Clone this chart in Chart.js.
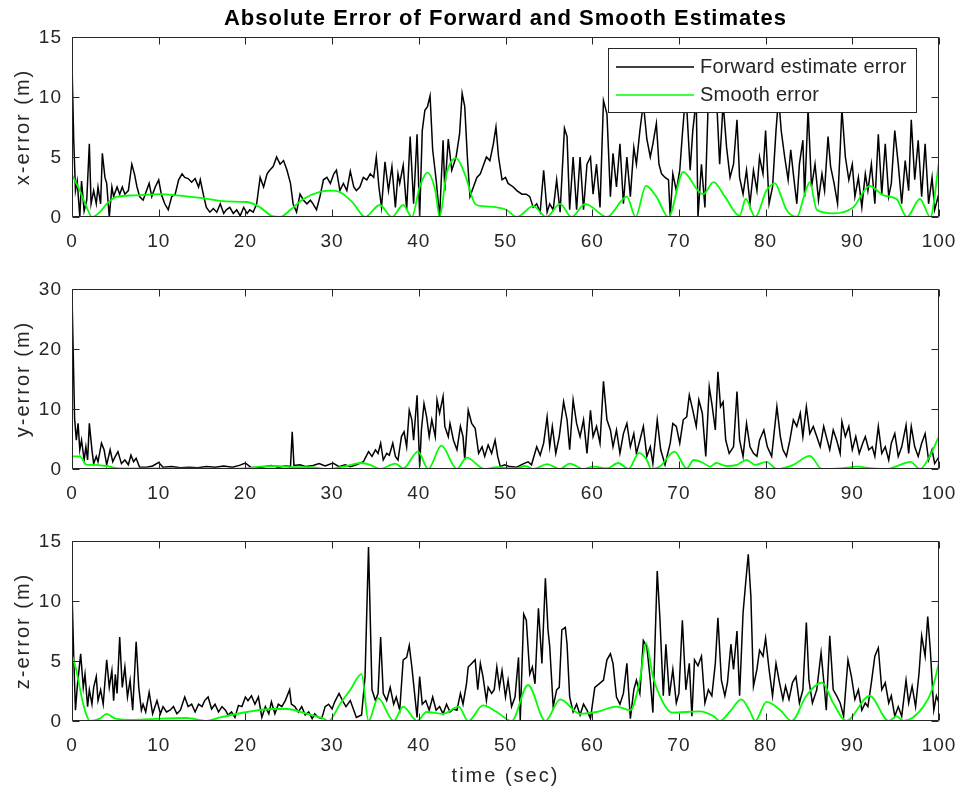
<!DOCTYPE html>
<html>
<head>
<meta charset="utf-8">
<script src="https://cdn.jsdelivr.net/npm/chart.js@4.4.1/dist/chart.umd.min.js"></script>
<style>
  body { margin: 0; background: #fff; width: 962px; height: 792px; position: relative; overflow: hidden; font-family: "Liberation Sans", Arial, sans-serif; }
  canvas { position: absolute; left: 0; }
  #title { position: absolute; left: 72px; width: 867px; top: 6px; line-height: 24px; text-align: center; font-weight: bold; font-size: 22px; letter-spacing: 1px; color: #000; }
</style>
</head>
<body>
<canvas id="c1" width="962" height="250" style="top:0"></canvas>
<canvas id="c2" width="962" height="252" style="top:250px"></canvas>
<canvas id="c3" width="962" height="290" style="top:502px"></canvas>
<div id="title">Absolute Error of Forward and Smooth Estimates</div>
<script>
// Absolute error of forward and smooth estimates, [time (sec), error (m)]

const xForward = [[0,12.8],[0.2,6.4],[0.4,2.2],[0.6,3.0],[0.9,0],[1.1,3.0],[1.4,0.5],[1.7,1.4],[2.0,6.1],[2.2,1.1],[2.5,2.2],[2.8,1.1],[3.0,2.5],[3.3,1.1],[3.5,5.3],[3.8,3.3],[4.0,2.8],[4.3,0],[4.6,2.5],[4.8,1.7],[5.2,2.5],[5.5,1.9],[5.8,2.5],[6.1,1.9],[6.5,2.2],[6.9,4.4],[7.2,3.6],[7.5,2.5],[7.8,1.7],[8.2,1.4],[8.6,2.2],[8.9,2.8],[9.2,1.7],[9.6,2.5],[10.0,3.1],[10.3,1.9],[10.7,1.1],[11.1,0.6],[11.5,1.7],[11.9,1.9],[12.3,3.1],[12.7,3.6],[13.0,3.3],[13.4,3.2],[13.8,2.9],[14.2,3.2],[14.6,2.5],[14.8,3.1],[15.2,1.7],[15.5,0.8],[15.9,0.4],[16.3,0.7],[16.7,0.4],[17.1,1.1],[17.5,0.3],[17.8,0.6],[18.2,0.8],[18.6,0.3],[19.0,0.6],[19.4,0.1],[19.8,0.8],[20.2,0.3],[20.5,0.6],[20.9,0.4],[21.3,1.1],[21.7,3.3],[22.1,2.5],[22.5,3.6],[22.8,3.9],[23.2,4.2],[23.6,5.0],[24.0,4.4],[24.4,4.7],[24.8,3.9],[25.2,2.8],[25.5,1.1],[25.9,0.4],[26.3,1.9],[26.7,1.4],[27.1,1.1],[27.5,1.4],[27.8,1.1],[28.2,0.6],[28.6,1.7],[29.0,3.1],[29.4,3.3],[29.8,2.8],[30.2,3.6],[30.5,3.9],[30.9,2.2],[31.3,2.8],[31.7,2.2],[32.1,3.8],[32.5,2.5],[32.8,2.2],[33.2,2.5],
  [33.6,3.3],[34.0,3.1],[34.4,3.6],[34.8,3.3],[35.1,5.0],[35.4,2.5],[35.7,0.8],[36.1,4.6],[36.5,2.2],[36.9,4.2],[37.3,0.8],[37.6,3.6],[37.8,2.8],[38.2,4.3],[38.6,0.6],[39.0,6.7],[39.4,1.1],[39.8,6.9],[40.1,0],[40.4,7.2],[40.7,8.9],[41.0,9.2],[41.3,10.1],[41.6,5.6],[42.0,3.1],[42.4,0],[42.8,6.4],[43.0,2.2],[43.4,6.5],[43.8,3.9],[44.3,5.0],[44.7,6.9],[45.0,10.3],[45.3,9.2],[45.6,5.0],[45.9,1.7],[46.3,2.5],[46.7,3.3],[47.1,3.6],[47.4,4.2],[47.8,5.0],[48.2,4.7],[48.6,6.1],[48.9,7.5],[49.2,5.0],[49.6,3.1],[50.0,3.3],[50.3,2.8],[50.9,2.5],[51.3,2.2],[51.9,1.9],[52.4,1.9],[52.8,1.7],[53.2,0.8],[53.6,1.1],[54.0,0.4],[54.4,3.9],[54.8,0.4],[55.1,1.1],[55.5,0.6],[55.9,3.1],[56.3,0.4],[56.8,7.4],[57.1,6.7],[57.4,0.6],[57.8,5.0],[58.2,0.6],[58.6,5.0],[59.0,0.6],[59.4,4.4],[59.8,5.0],[60.1,1.9],[60.5,4.4],[60.9,0.8],[61.3,9.7],[61.7,8.6],[62.1,1.7],[62.4,5.3],[62.8,2.5],[63.2,6.1],[63.6,1.1],[64.0,5.0],[64.4,1.7],[64.8,5.8],[65.1,4.4],[65.5,7.2],[65.9,9.5],[66.3,6.5],[66.7,5.0],
  [67.0,6.1],[67.4,7.8],[67.7,4.4],[68.0,3.6],[68.4,3.3],[68.8,3.1],[69.0,0],[69.3,3.6],[69.7,2.2],[70.1,3.9],[70.4,6.9],[70.8,10.5],[71.3,3.9],[71.6,7.2],[72.0,9.8],[72.2,0],[72.6,4.4],[73.0,0.8],[73.4,10.0],[73.7,9.0],[74.0,9.5],[74.4,9.0],[74.7,4.4],[75.1,9.5],[75.5,5.8],[75.9,3.3],[76.3,4.4],[76.7,8.1],[77.0,3.3],[77.4,1.9],[77.8,3.9],[78.2,1.1],[78.6,3.9],[79.0,2.2],[79.3,5.0],[79.7,3.6],[80.0,7.2],[80.4,1.1],[80.8,2.5],[81.2,7.2],[81.5,10.0],[81.8,7.2],[82.2,5.0],[82.6,3.1],[82.9,5.6],[83.2,3.6],[83.6,1.1],[83.9,4.4],[84.3,6.4],[84.5,1.7],[84.9,9.0],[85.3,2.5],[85.7,4.4],[86.1,1.4],[86.5,3.6],[86.8,2.2],[87.2,6.7],[87.5,4.2],[87.9,2.8],[88.3,1.1],[88.6,5.6],[88.8,9.0],[89.2,5.0],[89.6,3.1],[90.0,4.4],[90.3,1.7],[90.7,3.3],[91.1,0.8],[91.5,3.6],[91.8,2.2],[92.2,4.4],[92.6,1.1],[93.0,6.9],[93.4,1.9],[93.8,6.1],[94.2,1.7],[94.5,2.8],[94.9,7.2],[95.3,4.4],[95.7,1.1],[96.1,4.7],[96.5,2.2],[96.8,8.1],[97.2,3.1],[97.6,6.4],[98.0,1.7],[98.4,6.1],[98.8,1.1],[99.2,3.3],[99.5,0.6],[99.9,1.7],[100,1.2]];

const xSmooth = [[0,3.5],[0.9,2.2],[1.7,0.8],[2.3,0],[3.2,0.4],[4.0,1.1],[5.2,1.7],[7.1,1.8],[10.2,1.9],[12.1,1.8],[14.8,1.6],[17.8,1.3],[20.2,1.25],[21.7,0.8],[23.0,0.1],[24.0,0],[25.2,0.6],[26.7,1.5],[28.6,2.1],[30.2,2.2],[31.3,1.9],[32.5,1.1],[33.8,0],[35.5,1.0],[36.9,0],[38.2,1.0],[39.2,0],[40.1,2.5],[41.0,3.7],[41.9,2.2],[42.4,0],[43.2,3.6],[44.3,4.9],[45.3,3.6],[46.5,1.1],[47.4,0.9],[49.0,0.8],[50.1,0.6],[51.3,0],[53.2,0.9],[54.7,0],[56.3,1.1],[57.6,0],[59.2,1.1],[61.7,0],[64.0,1.7],[65.0,0],[66.2,2.6],[67.4,1.7],[68.8,0],[70.5,3.75],[72.2,2.2],[72.8,1.9],[74.0,2.9],[75.3,1.7],[77.0,0.1],[77.7,1.5],[78.8,0],[80.1,2.2],[81.1,2.8],[81.8,1.7],[82.4,0.6],[83.6,0],[84.5,1.9],[85.1,2.9],[85.9,0.6],[87.8,0.3],[90.1,0.8],[92.0,2.6],[93.6,1.8],[95.1,1.5],[96.3,0],[97.8,1.5],[99.0,0],[100,4.6]];

const yForward = [[0,29],[0.3,8.4],[0.5,4.8],[0.7,7.6],[0.9,3.2],[1.1,4.8],[1.4,1.5],[1.6,3.7],[1.8,1.5],[2.0,7.6],[2.3,3.2],[2.5,0.9],[2.8,2.1],[3.0,1.2],[3.4,4.3],[3.7,3.2],[4.0,0.7],[4.4,3.2],[4.7,1.2],[5.0,2.1],[5.3,2.9],[5.7,0.9],[6.1,1.5],[6.5,0.7],[6.8,2.3],[7.1,1.2],[7.4,1.8],[7.8,0.3],[8.6,0.3],[9.3,0.5],[10.0,1.1],[10.5,0.3],[11.5,0.4],[12.5,0.2],[13.5,0.3],[14.5,0.2],[15.5,0.4],[16.5,0.3],[17.5,0.5],[18.5,0.3],[19.3,0.6],[20.0,1.0],[20.6,0.3],[21.5,0.2],[22.3,0.4],[23.0,0.6],[23.8,0.3],[24.6,0.5],[25.2,0.4],[25.4,6.2],[25.6,0.6],[26.3,0.7],[27.0,0.4],[27.8,0.6],[28.5,0.9],[29.2,0.5],[30.1,1.0],[30.8,0.4],[31.5,0.7],[32.1,0.4],[32.8,0.7],[33.6,1.2],[34.2,2.9],[34.6,2.1],[35.0,3.2],[35.3,2.6],[35.6,4.3],[35.9,1.5],[36.3,2.6],[36.6,2.3],[37.0,4.3],[37.3,2.1],[37.6,1.5],[38.0,5.4],[38.3,6.2],[38.6,3.7],[38.9,9.8],[39.2,8.2],[39.4,4.8],[39.8,12.3],[40.1,0.4],[40.3,6.5],[40.6,10.9],[40.9,8.7],[41.2,5.4],[41.5,8.2],[41.9,5.4],[42.1,11.5],[42.4,9.3],[42.8,12.1],[43.0,7.1],[43.4,5.4],[43.6,7.6],[44.0,4.8],[44.4,3.2],[44.8,7.1],[45.1,5.4],[45.3,1.5],[45.7,9.8],[46.1,7.6],[46.5,6.8],[46.9,2.6],[47.3,3.7],[47.6,2.1],[48.0,4.0],[48.4,2.6],[48.8,4.8],[49.1,2.1],[49.4,0.4],[49.9,0.7],[50.5,0.4],[51.3,0.3],[52.1,0.9],[52.6,1.2],[53.0,0.7],[53.6,3.7],[54.0,2.3],[54.4,4.3],[54.8,8.7],[55.1,3.7],[55.4,7.1],[55.8,2.6],[56.2,5.4],[56.7,11.2],[57.1,8.2],[57.4,3.2],[57.8,11.5],[58.2,7.6],[58.6,5.4],[59.0,8.2],[59.4,2.6],[59.8,9.8],[60.1,5.4],[60.5,7.1],[60.9,4.3],[61.3,14.6],[61.7,8.2],[62.1,6.5],[62.4,3.7],[62.8,6.5],[63.2,2.6],[63.6,5.9],[64.0,7.6],[64.4,3.7],[64.8,5.9],[65.1,2.6],[65.5,4.8],[65.9,7.1],[66.3,2.1],[66.7,3.7],
  [67.0,0.9],[67.5,8.2],[67.9,3.2],[68.4,0.7],[69.0,4.3],[69.3,7.6],[69.7,7.1],[70.1,4.3],[70.5,8.2],[70.9,8.7],[71.2,12.3],[71.6,9.8],[72.0,7.1],[72.3,11.5],[72.7,9.3],[73.1,2.1],[73.5,13.7],[73.8,10.9],[74.2,6.5],[74.5,16.2],[74.8,10.4],[75.1,11.2],[75.4,4.8],[75.8,2.6],[76.3,3.7],[76.7,12.9],[77.0,4.8],[77.4,2.1],[77.8,7.6],[78.2,3.7],[78.6,2.6],[79.0,2.1],[79.3,4.8],[79.8,6.5],[80.2,3.7],[80.7,2.1],[81.3,10.4],[81.7,5.4],[82.0,3.2],[82.4,2.1],[82.8,4.8],[83.2,8.2],[83.6,7.1],[84.0,9.3],[84.3,5.4],[84.7,10.4],[85.1,5.9],[85.5,7.1],[85.9,5.4],[86.3,3.7],[86.7,7.1],[87.0,5.4],[87.4,3.2],[87.8,6.5],[88.2,4.8],[88.6,2.6],[88.8,7.9],[89.2,5.4],[89.6,7.1],[90.0,3.2],[90.4,5.4],[90.8,2.6],[91.2,4.3],[91.5,5.4],[91.9,3.2],[92.3,3.7],[92.6,2.1],[93.0,7.1],[93.4,2.6],[93.8,3.7],[94.2,1.5],[94.5,4.3],[94.9,5.9],[95.3,2.1],[95.7,3.7],[96.2,7.3],[96.5,2.6],[96.8,7.1],[97.2,3.7],[97.6,2.1],[98.0,4.3],[98.4,5.9],[98.8,1.5],[99.2,3.2],[99.5,0.9],[99.9,1.8],[100,1.5]];

const ySmooth = [[0,2.1],[0.9,2.1],[1.7,0.7],[2.5,0.7],[4.0,0.5],[5.5,0.1],[10,0.1],[15,0.05],[20,0.1],[21.7,0.4],[23.6,0.5],[25.5,0.3],[27.5,0.3],[29.4,0],[31.3,0.4],[33.4,1.0],[34.4,0.7],[35.5,0],[37.3,0.9],[38.2,0.1],[39.9,2.9],[41.1,0],[42.6,3.9],[44.4,0],[45.5,1.9],[47.6,0],[49.0,0.3],[51.3,0.1],[52.3,0.5],[53.2,0],[54.8,0.8],[56.3,0],[57.4,0.9],[59.0,0],[60.1,0.4],[61.7,0.1],[63.0,1.0],[64.2,0],[65.4,2.7],[66.3,1.5],[66.8,0],[67.8,0.4],[69.5,2.9],[70.9,0.1],[71.7,1.5],[72.8,1.0],[73.6,0.4],[74.3,1.0],[75.5,0.5],[76.7,0.7],[77.8,1.5],[78.8,0.7],[80.1,1.2],[81.3,0],[83.2,0.7],[85.1,2.2],[86.5,0],[88.6,0.1],[90.5,0.4],[92.4,0.1],[94.0,0],[95.5,0.7],[96.7,1.2],[97.8,0],[99.0,2.3],[100,5.5]];

const zForward = [[0,10.9],[0.2,5.3],[0.4,0.9],[0.6,2.8],[0.8,4.2],[1.0,5.6],[1.3,2.8],[1.5,3.9],[1.8,1.2],[2.0,2.6],[2.3,1.4],[2.5,2.8],[2.8,3.7],[3.0,1.7],[3.3,2.6],[3.6,1.4],[4.0,5.1],[4.3,2.8],[4.6,4.2],[4.8,1.7],[5.0,3.9],[5.2,2.3],[5.5,7.0],[5.8,2.8],[6.1,4.5],[6.4,2.0],[6.7,3.4],[7.0,0.9],[7.4,6.6],[7.7,2.8],[8.0,0.9],[8.2,1.4],[8.5,0.75],[8.9,2.4],[9.3,0.6],[9.8,1.7],[10.2,0.6],[10.5,1.2],[10.9,0.75],[11.3,0.9],[11.7,1.2],[12.1,0.6],[12.5,0.9],[13.0,2.0],[13.4,1.2],[13.8,1.4],[14.2,0.75],[14.6,1.4],[15.0,1.2],[15.3,1.7],[15.7,2.0],[16.1,1.0],[16.5,1.4],[16.9,0.75],[17.3,1.2],[17.7,0.9],[18.0,0.5],[18.4,0.75],[18.8,0.3],[19.2,1.3],[19.6,1.2],[20.0,2.0],[20.3,1.7],[20.7,2.1],[21.1,1.4],[21.5,2.0],[21.9,0.3],[22.3,1.2],[22.7,0.6],[23.0,1.6],[23.4,0.6],[23.8,1.4],[24.2,1.2],[24.6,1.7],[25.1,2.6],[25.3,1.4],[25.7,1.2],[26.1,0.75],[26.5,1.2],[26.9,0.5],[27.3,0.75],[27.7,0.2],[28.0,0.6],[28.4,0.3],[28.8,0.2],[29.2,1.2],[29.6,1.4],[30.0,1.0],[30.3,1.6],[30.8,2.3],[31.2,1.7],[31.6,1.2],[32.1,1.7],[32.5,0.9],[32.8,0.3],
  [33.4,0.5],[33.8,3.7],[34.2,14.5],[34.6,2.6],[35.0,1.7],[35.3,2.3],[35.6,7.0],[35.9,2.3],[36.3,1.7],[36.7,2.8],[37.1,1.4],[37.4,2.0],[37.8,0.9],[38.2,5.1],[38.6,5.3],[38.9,6.3],[39.2,4.5],[39.6,1.7],[39.8,0.3],[40.1,3.7],[40.4,1.4],[40.8,1.7],[41.2,0.9],[41.6,2.0],[42.0,0.9],[42.4,1.2],[42.8,0.6],[43.2,1.4],[43.6,0.75],[44.0,1.0],[44.4,0.9],[44.8,2.3],[45.1,1.4],[45.5,3.1],[45.7,4.5],[46.1,4.8],[46.5,5.1],[46.8,2.6],[47.1,4.8],[47.4,3.7],[47.8,1.7],[48.0,2.8],[48.4,2.3],[48.7,2.6],[49.0,4.5],[49.3,2.8],[49.6,4.2],[50.0,2.0],[50.3,3.4],[50.7,1.2],[51.1,2.0],[51.5,5.3],[51.7,0.05],[52.1,8.9],[52.4,8.4],[52.8,3.9],[53.1,4.5],[53.4,3.1],[53.8,9.4],[54.2,4.8],[54.6,11.9],[54.9,7.6],[55.1,6.2],[55.5,1.2],[55.9,2.6],[56.2,2.8],[56.5,7.6],[56.9,7.8],[57.1,6.4],[57.4,2.0],[57.8,0.75],[58.2,1.4],[58.6,0.5],[59.0,1.4],[59.4,0.9],[59.8,0.2],[60.3,2.8],[60.8,3.1],[61.3,3.4],[61.7,5.1],[62.1,5.6],[62.4,4.8],[62.8,2.0],[63.2,1.4],[63.6,2.3],[64.0,4.8],[64.4,0.2],[64.8,2.6],[65.1,3.4],[65.5,2.3],[65.9,6.7],[66.3,6.2],[66.7,3.4],
  [67.0,0.7],[67.5,12.5],[67.8,8.7],[68.2,2.1],[68.5,6.4],[68.9,2.1],[69.3,4.3],[69.7,1.5],[70.0,2.3],[70.4,8.4],[70.8,2.6],[71.2,4.8],[71.5,0.4],[71.8,5.1],[72.2,4.6],[72.6,5.4],[73.0,1.5],[73.4,2.6],[73.8,2.1],[74.2,4.8],[74.5,8.6],[74.9,3.4],[75.3,2.1],[75.6,3.2],[76.0,6.4],[76.3,4.3],[76.7,7.5],[77.0,2.1],[77.4,9.0],[77.7,11.5],[78.0,13.9],[78.3,10.4],[78.6,2.9],[79.0,4.3],[79.3,5.9],[79.7,5.4],[80.0,6.9],[80.4,4.3],[80.8,2.1],[81.2,4.8],[81.6,3.2],[82.0,1.8],[82.3,2.9],[82.7,1.8],[83.1,3.2],[83.5,3.7],[83.9,1.5],[84.3,2.6],[84.7,8.2],[85.0,3.4],[85.4,1.5],[85.9,2.6],[86.4,5.7],[86.8,2.6],[87.0,0.9],[87.4,7.1],[87.8,2.6],[88.2,2.1],[88.6,1.5],[89.0,0.4],[89.5,5.1],[89.9,3.7],[90.3,1.8],[90.7,2.6],[91.1,0.9],[91.5,1.5],[91.8,1.2],[92.2,3.2],[92.6,5.4],[93.0,6.1],[93.4,2.6],[93.8,3.2],[94.2,1.5],[94.5,2.1],[94.9,0.4],[95.3,1.2],[95.7,0.4],[96.2,3.4],[96.5,1.5],[96.9,2.9],[97.3,1.2],[97.7,4.0],[98.0,7.1],[98.4,5.4],[98.7,8.7],[99.0,5.9],[99.4,0.9],[99.7,2.1],[100,1.5]];

const zSmooth = [[0,5.5],[0.5,4.2],[1.3,1.4],[2.1,0],[3.2,0.2],[4.0,0.6],[5.0,0.2],[7.1,0.1],[10.2,0.2],[13.2,0.25],[15.5,0],[17.1,0.3],[20.2,0.75],[23.2,1.0],[24.8,1.0],[27.1,0.6],[29.0,0.2],[29.6,0],[30.9,1.4],[32.1,2.6],[33.4,3.9],[34.2,0],[35.3,1.9],[37.1,0],[38.2,1.2],[39.8,0],[40.9,0.75],[42.8,0.6],[44.6,1.2],[45.7,0],[47.4,1.3],[49.0,0.75],[50.7,0],[52.6,3.0],[54.6,0],[56.3,1.8],[58.6,0.6],[60.5,0.75],[62.8,1.2],[64.4,0.9],[65.5,3.4],[66.2,6.5],[67.0,3.7],[68.2,1.5],[69.2,0.7],[72.4,0.8],[74.0,0.4],[74.7,0],[75.9,0.8],[77.2,1.8],[78.2,0.8],[78.8,0],[80.1,1.6],[81.7,0.9],[83.0,0],[84.7,2.1],[86.5,3.2],[87.8,1.5],[89.3,0],[92.0,2.1],[94.2,0],[95.1,0.4],[95.9,0],[98.2,1.2],[99.2,2.6],[100,4.9]];

const FONT = '"Liberation Sans", Arial, sans-serif';
const AXIS_COLOR = '#262626';

function toPoints(pairs) {
    return pairs.map(p => ({ x: p[0], y: p[1] }));
}

// matlab text is a bit wider than Arial, so space the tick labels out
const spacing = {
    id: 'spacing',
    beforeUpdate(chart) { chart.ctx.letterSpacing = '1px'; },
    beforeDraw(chart) { chart.ctx.letterSpacing = '1px'; }
};

// box round the plot with inward ticks on all four sides, plus axis titles
const axesBox = {
    id: 'axesBox',
    afterDatasetsDraw(chart, args, opts) {
        const { ctx, chartArea: a, scales } = chart;
        const L = Math.round(a.left) + 0.5, R = Math.round(a.right) - 0.5;
        const T = Math.round(a.top) + 0.5, B = Math.round(a.bottom) - 0.5;
        const len = 7;
        ctx.save();
        ctx.strokeStyle = AXIS_COLOR;
        ctx.lineWidth = 1;
        ctx.beginPath();
        ctx.rect(L, T, R - L, B - T);
        scales.x.ticks.forEach(t => {
            const px = Math.round(scales.x.getPixelForValue(t.value)) + 0.5;
            ctx.moveTo(px, B); ctx.lineTo(px, B - len);
            ctx.moveTo(px, T); ctx.lineTo(px, T + len);
        });
        scales.y.ticks.forEach(t => {
            const py = Math.round(scales.y.getPixelForValue(t.value)) + 0.5;
            ctx.moveTo(L, py); ctx.lineTo(L + len, py);
            ctx.moveTo(R, py); ctx.lineTo(R - len, py);
        });
        ctx.stroke();

        ctx.fillStyle = AXIS_COLOR;
        ctx.font = '20px ' + FONT;
        ctx.letterSpacing = '2px';
        ctx.textAlign = 'center';
        ctx.textBaseline = 'middle';
        if (opts.yTitle) {
            ctx.save();
            ctx.translate(23, (a.top + a.bottom) / 2);
            ctx.rotate(-Math.PI / 2);
            ctx.fillText(opts.yTitle, 0, 0);
            ctx.restore();
        }
        if (opts.xTitle) {
            ctx.fillText(opts.xTitle, (a.left + a.right) / 2, a.bottom + 55);
        }
        ctx.restore();
    }
};

// boxed legend in the top right corner of the first plot
const boxLegend = {
    id: 'boxLegend',
    afterDraw(chart) {
        const { ctx, chartArea: a } = chart;
        const x0 = Math.round(a.right) - 331, y0 = Math.round(a.top) + 11;
        const w = 308, h = 64;
        ctx.save();
        ctx.fillStyle = '#ffffff';
        ctx.fillRect(x0, y0, w, h);
        ctx.strokeStyle = AXIS_COLOR;
        ctx.lineWidth = 1;
        ctx.strokeRect(x0 + 0.5, y0 + 0.5, w, h);
        ctx.font = '20px ' + FONT;
        ctx.letterSpacing = '0.2px';
        ctx.textBaseline = 'middle';
        chart.data.datasets.forEach((ds, i) => {
            const ly = y0 + 19 + i * 28;
            ctx.strokeStyle = ds.borderColor;
            ctx.lineWidth = 1.6;
            ctx.beginPath();
            ctx.moveTo(x0 + 8, ly);
            ctx.lineTo(x0 + 86, ly);
            ctx.stroke();
            ctx.fillStyle = AXIS_COLOR;
            ctx.fillText(ds.label, x0 + 92, ly);
        });
        ctx.restore();
    }
};

function makeChart(id, cfg) {
    const plugins = [spacing, axesBox];
    if (cfg.legend) plugins.push(boxLegend);

    return new Chart(document.getElementById(id), {
        type: 'line',
        data: {
            datasets: [
                {
                    label: 'Forward estimate error',
                    data: toPoints(cfg.forward),
                    borderColor: '#000000',
                    borderWidth: 1.5,
                    pointRadius: 0,
                    tension: 0,
                    order: 2
                },
                {
                    label: 'Smooth error',
                    data: toPoints(cfg.smooth),
                    borderColor: '#00ff00',
                    borderWidth: 1.8,
                    pointRadius: 0,
                    cubicInterpolationMode: 'monotone',
                    order: 1
                }
            ]
        },
        options: {
            responsive: false,
            animation: false,
            events: [],
            layout: { padding: { top: cfg.padTop, right: 23, left: 0, bottom: 0 } },
            plugins: {
                legend: { display: false },
                tooltip: { enabled: false },
                axesBox: { yTitle: cfg.yTitle, xTitle: cfg.xTitle }
            },
            scales: {
                x: {
                    type: 'linear',
                    min: 0,
                    max: 100,
                    grid: { display: false, drawTicks: false },
                    border: { display: false },
                    ticks: { stepSize: 10, padding: 13, maxRotation: 0, autoSkip: false, color: AXIS_COLOR, font: { family: FONT, size: 19 } },
                    afterFit(s) { s.height = cfg.xHeight; s.paddingLeft = 0; s.paddingRight = 0; }
                },
                y: {
                    min: 0,
                    max: cfg.yMax,
                    grid: { display: false, drawTicks: false },
                    border: { display: false },
                    ticks: { stepSize: cfg.yStep, padding: 10, labelOffset: 1, color: AXIS_COLOR, font: { family: FONT, size: 19 } },
                    afterFit(s) { s.width = 72; s.paddingTop = 0; s.paddingBottom = 0; }
                }
            }
        },
        plugins: plugins
    });
}

makeChart('c1', { forward: xForward, smooth: xSmooth, yMax: 15, yStep: 5, yTitle: 'x-error (m)', padTop: 37, xHeight: 33, legend: true });
makeChart('c2', { forward: yForward, smooth: ySmooth, yMax: 30, yStep: 10, yTitle: 'y-error (m)', padTop: 39, xHeight: 33 });
makeChart('c3', { forward: zForward, smooth: zSmooth, yMax: 15, yStep: 5, yTitle: 'z-error (m)', padTop: 39, xHeight: 71, xTitle: 'time (sec)' });
</script>
</body>
</html>
